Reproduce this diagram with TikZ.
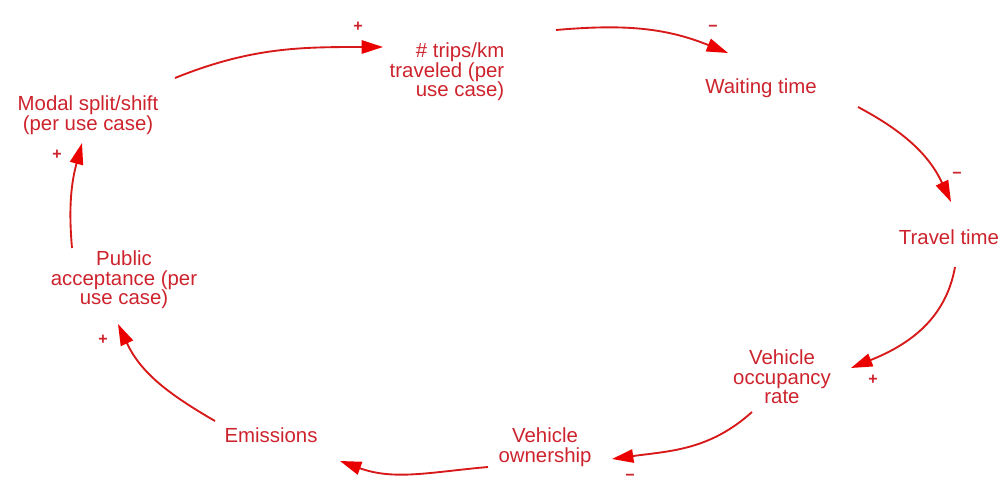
\documentclass[tikz,border=0pt]{standalone}
\usepackage{fontspec}
\setmainfont{Liberation Sans}
\usetikzlibrary{arrows.meta}

\definecolor{textred}{RGB}{205,35,45}
\definecolor{linkred}{RGB}{215,25,25}
\definecolor{headred}{RGB}{235,0,0}

\begin{document}
\begin{tikzpicture}[
      x=0.75pt, y=-0.75pt,
      var/.style={align=center, text=textred, inner sep=0pt, font=\fontsize{15.3}{14.6}\selectfont},
      link/.style={draw=linkred, line width=1.4pt, -{Triangle[length=16pt, width=10pt, color=headred, fill=headred]}},
      sign/.style={text=textred, inner sep=0pt, font=\fontsize{12}{12}\bfseries}]
    \useasboundingbox (0,0) rectangle (1003,484);
    % Variables of the loop
    \node[var] (modal) at (88,115)  {Modal split/shift\\(per use case)};
    \node[var, align=right] (trips) at (447,72) {\# trips/km\\traveled (per\\use case)};
    \node[var] (wait)  at (761,88)  {Waiting time};
    \node[var] (travel) at (949,237) {Travel time};
    \node[var] (occ)   at (782,377) {Vehicle\\occupancy\\rate};
    \node[var] (own)   at (545,447) {Vehicle\\ownership};
    \node[var] (emis)  at (271,435) {Emissions};
    \node[var] (pub)   at (124,280) {Public\\acceptance (per\\use case)};
    % Causal links
    \draw[link] ([shift={(87,-37)}]modal.center) to[out=22,in=180] ([shift={(-64,-25)}]trips.center);
    \draw[link] ([shift={(109,-42)}]trips.center) to[out=5,in=158] ([shift={(-33,-35)}]wait.center);
    \draw[link] ([shift={(97,19)}]wait.center) to[out=-28,in=115] ([shift={(2,-35)}]travel.center);
    \draw[link] ([shift={(6,30)}]travel.center) to[out=-100,in=22] ([shift={(69,-9)}]occ.center);
    \draw[link] ([shift={(-30,35)}]occ.center) to[out=222,in=8] ([shift={(67,12)}]own.center);
    \draw[link] ([shift={(-57,20)}]own.center) to[out=185,in=-20] ([shift={(69,26)}]emis.center);
    \draw[link] ([shift={(-56,-14)}]emis.center) to[out=150,in=-65] ([shift={(-6,44)}]pub.center);
    \draw[link] ([shift={(-52,-32)}]pub.center) to[out=95,in=-105] ([shift={(-6,28)}]modal.center);
    % Polarities
    \node[sign] (s1) at (358,27)  {+};
    \node[sign] (s2) at (713,28)  {−};
    \node[sign] (s3) at (957,175) {−};
    \node[sign] (s4) at (873,380) {+};
    \node[sign] (s5) at (630,477) {−};
    \node[sign] (s7) at (103,340) {+};
    \node[sign] (s8) at (57,155)  {+};
  \end{tikzpicture}
\end{document}
